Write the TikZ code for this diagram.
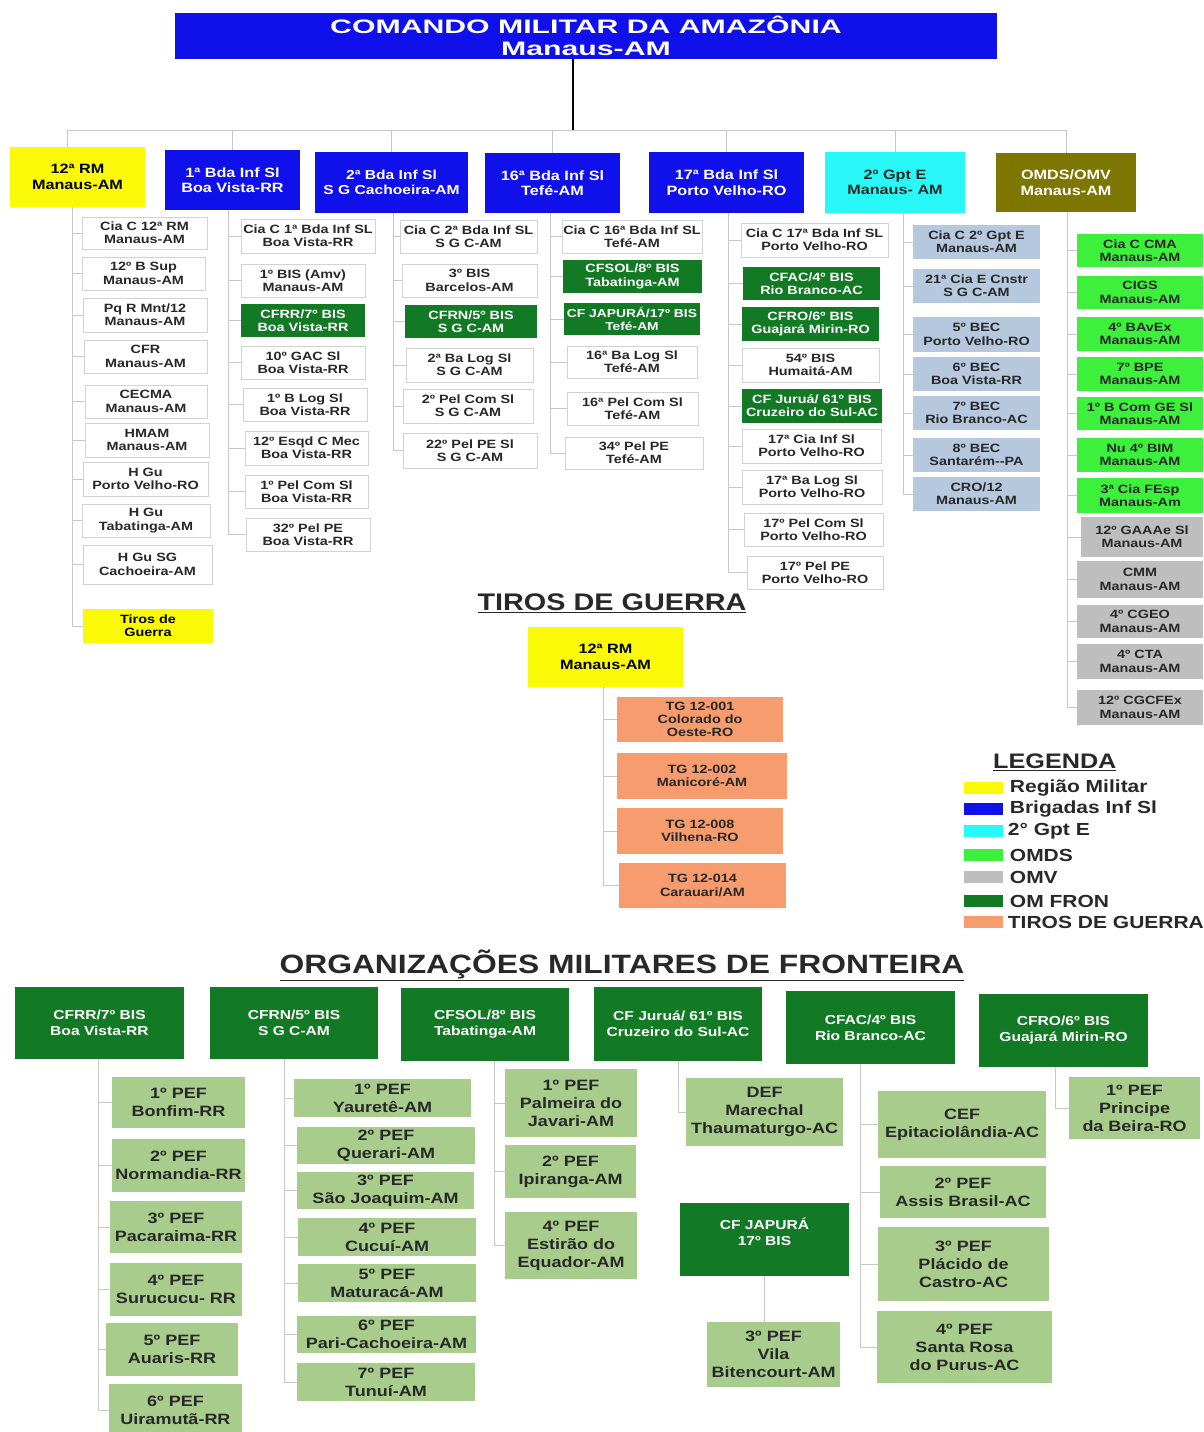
\documentclass[tikz,border=0pt]{standalone}
\usepackage{fontspec}
\setmainfont{Liberation Sans}[FakeStretch=1.2]
\newfontfamily\widefont{Liberation Sans}[FakeStretch=1.55]
\usetikzlibrary{positioning}

\definecolor{cmaBlue}{RGB}{16,16,235}
\definecolor{rmYellow}{RGB}{250,250,8}
\definecolor{gptCyan}{RGB}{40,248,248}
\definecolor{omOlive}{RGB}{125,118,0}
\definecolor{fronGreen}{RGB}{18,122,36}
\definecolor{omdsGreen}{RGB}{60,240,60}
\definecolor{omvGray}{RGB}{190,190,190}
\definecolor{gptLight}{RGB}{182,200,222}
\definecolor{pefGreen}{RGB}{168,204,140}
\definecolor{tgOrange}{RGB}{246,156,110}
\definecolor{lineGray}{RGB}{200,200,200}
\definecolor{boxLine}{RGB}{210,210,210}
\definecolor{txtDark}{RGB}{40,40,40}

\tikzset{
  unit/.style={rectangle, anchor=north west, align=center, inner sep=0pt, outer sep=0pt, text=txtDark, font=\bfseries\fontsize{12}{13.3}\selectfont},
  plain/.style={unit, fill=white, draw=boxLine, line width=0.9pt},
  fron/.style={unit, fill=fronGreen, text=white},
  engr/.style={unit, fill=gptLight},
  omds/.style={unit, fill=omdsGreen},
  omv/.style={unit, fill=omvGray},
  tiro/.style={unit, fill=tgOrange},
  head/.style={unit, font=\bfseries\fontsize{13.5}{15.5}\selectfont},
  bighead/.style={unit, fill=fronGreen, text=white, font=\bfseries\fontsize{13}{16}\selectfont},
  pef/.style={unit, fill=pefGreen, font=\bfseries\fontsize{15}{18}\selectfont},
  conn/.style={draw=lineGray, line width=0.8pt},
  wh/.style 2 args={minimum width=#1, minimum height=#2},
  swatch/.style={rectangle, minimum width=39, minimum height=12, inner sep=0pt},
  legtext/.style={font=\bfseries\fontsize{17.5}{20}\selectfont, text=txtDark, inner sep=0pt},
  sectitle/.style={text=txtDark, inner sep=0pt}
  }

\begin{document}
\begin{tikzpicture}[x=1pt, y=-1pt]
	% Frame
	\fill[white] (0,0) rectangle (1203,1432);
	\useasboundingbox (0,0) rectangle (1203,1432);

	% Top
	\node[unit, fill=cmaBlue, text=white, wh={822}{46}, font=\widefont\bfseries\fontsize{19.5}{22}\selectfont] (cma) at (175,13) {COMANDO MILITAR DA AMAZÔNIA\\Manaus-AM};
	\node[head, fill=rmYellow, text=black, wh={135}{60}] (rm) at (10,147) {12ª RM\\Manaus-AM};
	\node[head, fill=cmaBlue, text=white, wh={135}{60}] (bdaA) at (165,150) {1ª Bda Inf Sl\\Boa Vista-RR};
	\node[head, fill=cmaBlue, text=white, wh={153}{61}, font=\bfseries\fontsize{13}{15.5}\selectfont] (bdaB) at (315,152) {2ª Bda Inf Sl\\S G Cachoeira-AM};
	\node[head, fill=cmaBlue, text=white, wh={135}{60}] (bdaC) at (485,153) {16ª Bda Inf Sl\\Tefé-AM};
	\node[head, fill=cmaBlue, text=white, wh={155}{61}] (bdaD) at (649,152) {17ª Bda Inf Sl\\Porto Velho-RO};
	\node[head, fill=gptCyan, wh={140}{61}] (gpt) at (825,152) {2º Gpt E\\Manaus- AM};
	\node[head, fill=omOlive, text=white, wh={140}{59}] (omdsv) at (996,153) {OMDS/OMV\\Manaus-AM};

	% 12 RM
	\node[plain, wh={125}{32}] (c1) at (82,217) {Cia C 12ª RM\\Manaus-AM};
	\node[plain, wh={123}{33}] (c2) at (82,257) {12º B Sup\\Manaus-AM};
	\node[plain, wh={124}{34}] (c3) at (83,298) {Pq R Mnt/12\\Manaus-AM};
	\node[plain, wh={123}{33}] (c4) at (84,340) {CFR\\Manaus-AM};
	\node[plain, wh={122}{33}] (c5) at (85,385) {CECMA\\Manaus-AM};
	\node[plain, wh={124}{34}] (c6) at (85,423) {HMAM\\Manaus-AM};
	\node[plain, wh={125}{34}] (c7) at (83,462) {H Gu\\Porto Velho-RO};
	\node[plain, wh={128}{33}] (c8) at (82,504) {H Gu\\Tabatinga-AM};
	\node[plain, wh={129}{39}] (c9) at (83,545) {H Gu SG\\Cachoeira-AM};
	\node[unit, fill=rmYellow, text=black, wh={130}{34}] (tgA) at (83,609) {Tiros de\\Guerra};

	% 1 Bda
	\node[plain, wh={134}{34}] (a1) at (241,219) {Cia C 1ª Bda Inf SL\\Boa Vista-RR};
	\node[plain, wh={124}{33}] (a2) at (241,264) {1º BIS (Amv)\\Manaus-AM};
	\node[fron, wh={124}{33}] (a3) at (241,304) {CFRR/7º BIS\\Boa Vista-RR};
	\node[plain, wh={124}{33}] (a4) at (241,346) {10º GAC Sl\\Boa Vista-RR};
	\node[plain, wh={124}{33}] (a5) at (243,388) {1º B Log Sl\\Boa Vista-RR};
	\node[plain, wh={123}{34}] (a6) at (245,431) {12º Esqd C Mec\\Boa Vista-RR};
	\node[plain, wh={123}{33}] (a7) at (245,475) {1º Pel Com Sl\\Boa Vista-RR};
	\node[plain, wh={124}{33}] (a8) at (246,518) {32º Pel PE\\Boa Vista-RR};

	% 2 Bda
	\node[plain, wh={137}{33}] (b1) at (400,220) {Cia C 2ª Bda Inf SL\\S G C-AM};
	\node[plain, wh={135}{33}] (b2) at (402,264) {3º BIS\\Barcelos-AM};
	\node[fron, wh={132}{33}] (b3) at (405,305) {CFRN/5º BIS\\S G C-AM};
	\node[plain, wh={127}{34}] (b4) at (406,348) {2ª Ba Log Sl\\S G C-AM};
	\node[plain, wh={130}{34}] (b5) at (403,389) {2º Pel Com Sl\\S G C-AM};
	\node[plain, wh={134}{35}] (b6) at (403,433) {22º Pel PE Sl\\S G C-AM};

	% 16 Bda
	\node[plain, wh={140}{33}] (d1) at (562,220) {Cia C 16ª Bda Inf SL\\Tefé-AM};
	\node[fron, wh={139}{33}] (d2) at (563,260) {CFSOL/8º BIS\\Tabatinga-AM};
	\node[fron, wh={136}{32}, font=\bfseries\fontsize{11.5}{13}\selectfont] (d3) at (564,303) {CF JAPURÁ/17º BIS\\Tefé-AM};
	\node[plain, wh={130}{32}] (d4) at (567,346) {16ª Ba Log Sl\\Tefé-AM};
	\node[plain, wh={131}{33}] (d5) at (567,392) {16ª Pel Com Sl\\Tefé-AM};
	\node[plain, wh={138}{32}] (d6) at (565,437) {34º Pel PE\\Tefé-AM};

	% 17 Bda
	\node[plain, wh={147}{34}] (e1) at (741,223) {Cia C 17ª Bda Inf SL\\Porto Velho-RO};
	\node[fron, wh={137}{33}] (e2) at (743,267) {CFAC/4º BIS\\Rio Branco-AC};
	\node[fron, wh={137}{34}] (e3) at (742,307) {CFRO/6º BIS\\Guajará Mirin-RO};
	\node[plain, wh={137}{34}] (e4) at (742,348) {54º BIS\\Humaitá-AM};
	\node[fron, wh={140}{34}] (e5) at (742,389) {CF Juruá/ 61º BIS\\Cruzeiro do Sul-AC};
	\node[plain, wh={139}{34}] (e6) at (742,429) {17ª Cia Inf Sl\\Porto Velho-RO};
	\node[plain, wh={140}{34}] (e7) at (742,470) {17ª Ba Log Sl\\Porto Velho-RO};
	\node[plain, wh={139}{33}] (e8) at (744,513) {17º Pel Com Sl\\Porto Velho-RO};
	\node[plain, wh={136}{33}] (e9) at (747,556) {17º Pel PE\\Porto Velho-RO};

	% 2 Gpt E
	\node[engr, wh={127}{34}] (g1) at (913,225) {Cia C 2º Gpt E\\Manaus-AM};
	\node[engr, wh={127}{34}] (g2) at (913,269) {21ª Cia E Cnstr\\S G C-AM};
	\node[engr, wh={127}{35}] (g3) at (913,317) {5º BEC\\Porto Velho-RO};
	\node[engr, wh={127}{34}] (g4) at (913,357) {6º BEC\\Boa Vista-RR};
	\node[engr, wh={127}{34}] (g5) at (913,396) {7º BEC\\Rio Branco-AC};
	\node[engr, wh={127}{34}] (g6) at (913,438) {8º BEC\\Santarém-{}-PA};
	\node[engr, wh={127}{34}] (g7) at (913,477) {CRO/12\\Manaus-AM};

	% OMDS/OMV
	\node[omds, wh={126}{33}] (o1) at (1077,234) {Cia C CMA\\Manaus-AM};
	\node[omds, wh={126}{33}] (o2) at (1077,276) {CIGS\\Manaus-AM};
	\node[omds, wh={126}{34}] (o3) at (1077,317) {4º BAvEx\\Manaus-AM};
	\node[omds, wh={126}{34}] (o4) at (1077,357) {7º BPE\\Manaus-AM};
	\node[omds, wh={126}{33}] (o5) at (1077,397) {1º B Com GE Sl\\Manaus-AM};
	\node[omds, wh={126}{34}] (o6) at (1077,438) {Nu 4º BIM\\Manaus-AM};
	\node[omds, wh={126}{35}] (o7) at (1077,478) {3ª Cia FEsp\\Manaus-Am};
	\node[omv, wh={122}{40}] (v1) at (1081,517) {12º GAAAe Sl\\Manaus-AM};
	\node[omv, wh={126}{37}] (v2) at (1077,561) {CMM\\Manaus-AM};
	\node[omv, wh={126}{33}] (v3) at (1077,605) {4º CGEO\\Manaus-AM};
	\node[omv, wh={126}{35}] (v4) at (1077,644) {4º CTA\\Manaus-AM};
	\node[omv, wh={126}{35}] (v5) at (1077,690) {12º CGCFEx\\Manaus-AM};

	% Tiros de Guerra
	\node[sectitle, font=\bfseries\fontsize{24}{28}\selectfont] (tgtitle) at (612,603) {\underline{TIROS DE GUERRA}};
	\node[head, fill=rmYellow, text=black, wh={155}{60}] (rmB) at (528,627) {12ª RM\\Manaus-AM};
	\node[tiro, wh={166}{45}] (t1) at (617,697) {TG 12-001\\Colorado do\\Oeste-RO};
	\node[tiro, wh={170}{46}] (t2) at (617,753) {TG 12-002\\Manicoré-AM};
	\node[tiro, wh={166}{46}] (t3) at (617,808) {TG 12-008\\Vilhena-RO};
	\node[tiro, wh={167}{45}] (t4) at (619,863) {TG 12-014\\Carauari/AM};

	% Legenda
	\node[sectitle, anchor=west, font=\bfseries\fontsize{21}{24}\selectfont] (legtitle) at (993,762) {\underline{LEGENDA}};
	\node[swatch, fill=rmYellow] (sw1) at (983,788) {};
	\node[swatch, fill=cmaBlue] (sw2) at (983,809) {};
	\node[swatch, fill=gptCyan] (sw3) at (983,831) {};
	\node[swatch, fill=omdsGreen] (sw4) at (983,855) {};
	\node[swatch, fill=omvGray] (sw5) at (983,877) {};
	\node[swatch, fill=fronGreen] (sw6) at (983,901) {};
	\node[swatch, fill=tgOrange] (sw7) at (983,922) {};
	\node[legtext, right=7pt of sw1] (lg1) {Região Militar};
	\node[legtext, right=7pt of sw2] (lg2) {Brigadas Inf Sl};
	\node[legtext, right=5pt of sw3] (lg3) {2° Gpt E};
	\node[legtext, right=7pt of sw4] (lg4) {OMDS};
	\node[legtext, right=7pt of sw5] (lg5) {OMV};
	\node[legtext, right=7pt of sw6] (lg6) {OM FRON};
	\node[legtext, right=5pt of sw7] (lg7) {TIROS DE GUERRA};

	% Fronteira
	\node[sectitle, font=\bfseries\fontsize{26.5}{30}\selectfont] (frtitle) at (622,965) {\underline{ORGANIZAÇÕES MILITARES DE FRONTEIRA}};
	\node[bighead, wh={169}{72}] (f1) at (15,987) {CFRR/7º BIS\\Boa Vista-RR};
	\node[bighead, wh={168}{72}] (f2) at (210,987) {CFRN/5º BIS\\S G C-AM};
	\node[bighead, wh={168}{73}] (f3) at (401,988) {CFSOL/8º BIS\\Tabatinga-AM};
	\node[bighead, wh={168}{74}] (f4) at (594,987) {CF Juruá/ 61º BIS\\Cruzeiro do Sul-AC};
	\node[bighead, wh={169}{73}] (f5) at (786,991) {CFAC/4º BIS\\Rio Branco-AC};
	\node[bighead, wh={169}{73}] (f6) at (979,994) {CFRO/6º BIS\\Guajará Mirin-RO};
	\node[bighead, wh={169}{73}] (f7) at (680,1203) {CF JAPURÁ\\17º BIS\\~};

	\node[pef, wh={133}{51}] (p11) at (112,1077) {1º PEF\\Bonfim-RR};
	\node[pef, wh={133}{53}] (p12) at (112,1139) {2º PEF\\Normandia-RR};
	\node[pef, wh={132}{52}] (p13) at (110,1201) {3º PEF\\Pacaraima-RR};
	\node[pef, wh={132}{53}] (p14) at (110,1263) {4º PEF\\Surucucu- RR};
	\node[pef, wh={132}{53}] (p15) at (106,1323) {5º PEF\\Auaris-RR};
	\node[pef, wh={133}{52}] (p16) at (109,1384) {6º PEF\\Uiramutã-RR};

	\node[pef, wh={177}{38}] (p21) at (294,1079) {1º PEF\\Yauretê-AM};
	\node[pef, wh={178}{37}] (p22) at (297,1127) {2º PEF\\Querari-AM};
	\node[pef, wh={177}{37}] (p23) at (297,1172) {3º PEF\\São Joaquim-AM};
	\node[pef, wh={178}{38}] (p24) at (298,1218) {4º PEF\\Cucuí-AM};
	\node[pef, wh={178}{38}] (p25) at (298,1264) {5º PEF\\Maturacá-AM};
	\node[pef, wh={179}{37}] (p26) at (297,1316) {6º PEF\\Pari-Cachoeira-AM};
	\node[pef, wh={178}{38}] (p27) at (297,1363) {7º PEF\\Tunuí-AM};

	\node[pef, wh={132}{68}] (p31) at (505,1069) {1º PEF\\Palmeira do\\Javari-AM};
	\node[pef, wh={131}{53}] (p32) at (505,1145) {2º PEF\\Ipiranga-AM};
	\node[pef, wh={132}{67}] (p33) at (505,1212) {4º PEF\\Estirão do\\Equador-AM};

	\node[pef, wh={157}{68}] (p41) at (686,1078) {DEF\\Marechal\\Thaumaturgo-AC};
	\node[pef, wh={133}{65}] (p71) at (707,1322) {3º PEF\\Vila\\Bitencourt-AM};

	\node[pef, wh={168}{67}] (p51) at (878,1091) {CEF\\Epitaciolândia-AC};
	\node[pef, wh={166}{52}] (p52) at (880,1166) {2º PEF\\Assis Brasil-AC};
	\node[pef, wh={171}{74}] (p53) at (878,1227) {3º PEF\\Plácido de\\Castro-AC};
	\node[pef, wh={175}{72}] (p54) at (877,1311) {4º PEF\\Santa Rosa\\do Purus-AC};

	\node[pef, wh={131}{62}] (p61) at (1069,1077) {1º PEF\\Principe\\da Beira-RO};

	% Lines
	\coordinate (bus) at (573,130);
	\draw[black, line width=1.2pt] (cma.south -| bus) -- (bus);
	\draw[conn] (bus) -| ([xshift=-10]rm.north);
	\foreach \h in {bdaA,bdaB,bdaC,bdaD,gpt,omdsv}
		\draw[conn] (bus) -| (\h.north);

	\foreach \kid in {c1,c2,c3,c4,c5,c6,c7,c8,c9,tgA}
		\draw[conn] ([xshift=-5]rm.south) |- (\kid.west);
	\foreach \kid in {a1,a2,a3,a4,a5,a6,a7,a8}
		\draw[conn] ([xshift=-4]bdaA.south) |- (\kid.west);
	\foreach \kid in {b1,b2,b3,b4,b5,b6}
		\draw[conn] ([xshift=2]bdaB.south) |- (\kid.west);
	\foreach \kid in {d1,d2,d3,d4,d5,d6}
		\draw[conn] ([xshift=-2]bdaC.south) |- (\kid.west);
	\foreach \kid in {e1,e2,e3,e4,e5,e6,e7,e8,e9}
		\draw[conn] ([xshift=2]bdaD.south) |- (\kid.west);
	\foreach \kid in {g1,g2,g3,g4,g5,g6,g7}
		\draw[conn] ([xshift=8]gpt.south) |- (\kid.west);
	\foreach \kid in {o1,o2,o3,o4,o5,o6,o7,v1,v2,v3,v4,v5}
		\draw[conn] ([xshift=1]omdsv.south) |- (\kid.west);
	\foreach \kid in {t1,t2,t3,t4}
		\draw[conn] ([xshift=-2]rmB.south) |- (\kid.west);

	\foreach \kid in {p11,p12,p13,p14,p15,p16}
		\draw[conn] ([xshift=-1]f1.south) |- (\kid.west);
	\foreach \kid in {p21,p22,p23,p24,p25,p26,p27}
		\draw[conn] ([xshift=-10]f2.south) |- (\kid.west);
	\foreach \kid in {p31,p32,p33}
		\draw[conn] ([xshift=9]f3.south) |- (\kid.west);
	\draw[conn] (f4.south) |- (p41.west);
	\draw[conn] (f7.south) -- (f7.south |- p71.north);
	\foreach \kid in {p51,p52,p53,p54}
		\draw[conn] ([xshift=-10]f5.south) |- (\kid.west);
	\draw[conn] ([xshift=-8]f6.south) |- (p61.west);
\end{tikzpicture}
\end{document}
